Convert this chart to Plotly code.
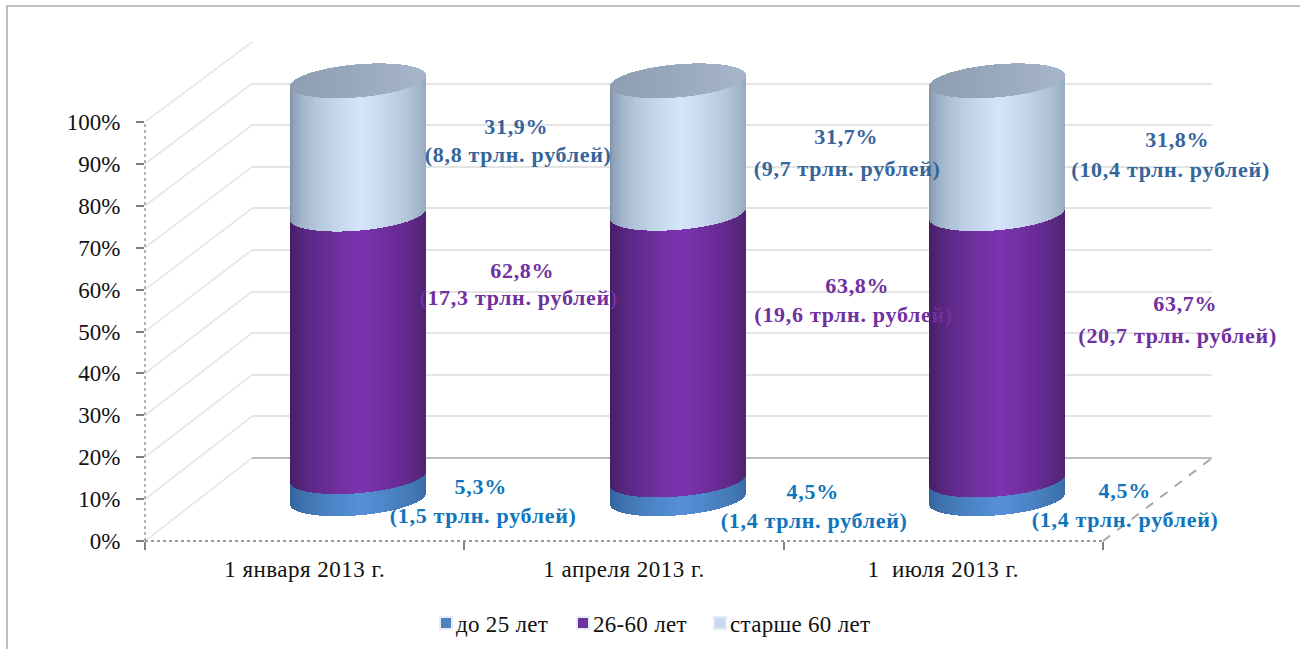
import numpy as np
import plotly.graph_objects as go

W, H = 1307, 649

categories = ["1 января 2013 г.", "1 апреля 2013 г.", "1  июля 2013 г."]
age_under_25 = [5.3, 4.5, 4.5]
age_26_60 = [62.8, 63.8, 63.7]
age_over_60 = [31.9, 31.7, 31.8]
trln_under_25 = ["1,5", "1,4", "1,4"]
trln_26_60 = ["17,3", "19,6", "20,7"]
trln_over_60 = ["8,8", "9,7", "10,4"]
series_names = ["до 25 лет", "26-60 лет", "старше 60 лет"]
pct_ticks = [0, 10, 20, 30, 40, 50, 60, 70, 80, 90, 100]
pct_labels = ["0%", "10%", "20%", "30%", "40%", "50%", "60%", "70%", "80%", "90%", "100%"]

FONT = "Liberation Serif"
TXT = "#111111"


def px(x):
    return x / W


def py(y):
    return 1 - y / H


def mix(a, b, t):
    a = [int(a[i:i + 2], 16) for i in (1, 3, 5)]
    b = [int(b[i:i + 2], 16) for i in (1, 3, 5)]
    return "rgb(%d,%d,%d)" % tuple(round(p + (q - p) * t) for p, q in zip(a, b))


# cylinder geometry, in units of the bar axes
PX_PER_CAT = 958 / 3
PX_PER_PCT = 4.18
half_w = 67.5 / PX_PER_CAT
semi_minor = 16.5 / PX_PER_PCT
tilt = 5.5 / PX_PER_PCT
STRIPS = 135
u = (np.arange(STRIPS) + 0.5) / STRIPS * 2 - 1
arc = np.sqrt(1 - u ** 2)
strip_w = 1.4 / PX_PER_CAT


def shade(edge, centre, power=0.55):
    lit = np.clip(1 - np.abs(u - 0.05) / 1.05, 0, 1) ** power
    return [mix(edge, centre, t) for t in lit]


def strips(bases, values, colours, name):
    xs, bs, ys, cs = [], [], [], []
    for i, (b, v) in enumerate(zip(bases, values)):
        xs += list(i + u * half_w)
        lo = b + tilt * u - semi_minor * arc
        hi = b + v + tilt * u - semi_minor * arc
        bs += list(lo)
        ys += list(hi - lo)
        cs += colours
    return go.Bar(x=xs, y=ys, base=bs, width=strip_w, marker=dict(color=cs, line_width=0),
                  xaxis="x3", yaxis="y3", name=name, showlegend=False, hoverinfo="skip")


fig = go.Figure()

# invisible traces keep the axes alive
fig.add_trace(go.Bar(x=categories, y=[None] * 3, xaxis="x", yaxis="y", showlegend=False, hoverinfo="skip"))
fig.add_trace(go.Scatter(x=[0, 1], y=[0, 100], xaxis="x2", yaxis="y2", mode="none", showlegend=False, hoverinfo="skip"))

base1 = [0, 0, 0]
base2 = age_under_25
base3 = [a + b for a, b in zip(age_under_25, age_26_60)]
fig.add_trace(strips(base1, age_under_25, shade("#2e5f95", "#5590d6"), series_names[0]))
fig.add_trace(strips(base2, age_26_60, shade("#3f1d5c", "#7c33b0"), series_names[1]))
fig.add_trace(strips(base3, age_over_60, shade("#6e8298", "#d4e5fb", 0.38), series_names[2]))

# top cap
tops = [a + b for a, b in zip(base3, age_over_60)]
cap_cols = [mix("#8d9db2", "#a6b5c7", t) for t in (u + 1) / 2]
xs, bs, ys, cs = [], [], [], []
for i, t in enumerate(tops):
    xs += list(i + u * half_w)
    bs += list(t + tilt * u - semi_minor * arc)
    ys += list(2 * semi_minor * arc)
    cs += cap_cols
fig.add_trace(go.Bar(x=xs, y=ys, base=bs, width=strip_w, marker=dict(color=cs, line_width=0),
                     xaxis="x3", yaxis="y3", showlegend=False, hoverinfo="skip"))

# legend entries
for name, col in zip(series_names, ["#4f81bd", "#7030a0", "#c6d9f1"]):
    fig.add_trace(go.Bar(x=[None], y=[None], xaxis="x3", yaxis="y3", name=name, marker_color=col))

# walls: front axes at (145..1103, 541..122); back wall at (252..1212, 458..42)
FX0, FX1, FY0, FY1 = 145, 1103, 541, 122
BX0, BX1, BY0, BY1 = 252, 1212, 458, 42
shapes = []
for p in pct_ticks:
    fy = FY0 + (FY1 - FY0) * p / 100
    by = BY0 + (BY1 - BY0) * p / 100
    shapes.append(dict(type="line", xref="paper", yref="paper", x0=px(FX0), y0=py(fy),
                       x1=px(BX0), y1=py(by), layer="below",
                       line=dict(color="#e4e4e4", width=1.5)))
# front y axis, floor edges
shapes += [
    dict(type="line", xref="paper", yref="paper", x0=px(FX0), y0=py(FY0), x1=px(FX0), y1=py(FY1),
         layer="below", line=dict(color="#9a9a9a", width=1.5, dash="dot")),
    dict(type="line", xref="paper", yref="paper", x0=px(FX0), y0=py(FY0), x1=px(FX1), y1=py(FY0),
         layer="below", line=dict(color="#9a9a9a", width=2, dash="dot")),
    dict(type="line", xref="paper", yref="paper", x0=px(FX1), y0=py(FY0), x1=px(BX1), y1=py(BY0),
         layer="below", line=dict(color="#a8a8a8", width=2, dash="dash")),
    # frame
    dict(type="line", xref="paper", yref="paper", x0=px(6), y0=py(6), x1=px(1300), y1=py(6),
         layer="below", line=dict(color="#bfbfbf", width=2)),
    dict(type="line", xref="paper", yref="paper", x0=px(7), y0=py(5), x1=px(7), y1=py(649),
         layer="below", line=dict(color="#bfbfbf", width=2)),
]

# value labels
LABEL_BLUE, LABEL_PURPLE, LABEL_DARK = "#0f75bd", "#7030a0", "#35659b"
label_sets = [
    (age_over_60, trln_over_60, LABEL_DARK,
     [(516, 126, 518, 155), (846, 137, 847, 168), (1177, 140, 1170, 170)]),
    (age_26_60, trln_26_60, LABEL_PURPLE,
     [(522, 270, 518, 298), (858, 285, 853, 314), (1185, 304, 1177, 335)]),
    (age_under_25, trln_under_25, LABEL_BLUE,
     [(481, 486, 483, 515), (813, 491, 814, 520), (1125, 490, 1125, 519)]),
]
annotations = []
for vals, amounts, col, spots in label_sets:
    for v, a, (x1, y1, x2, y2) in zip(vals, amounts, spots):
        for txt, x, y in ((f"{v:.1f}%".replace(".", ","), x1, y1), (f"({a} трлн. рублей)", x2, y2)):
            annotations.append(dict(text=f"<b>{txt}</b>", x=px(x), y=py(y), xref="paper", yref="paper",
                                    showarrow=False, xanchor="center", yanchor="middle",
                                    font=dict(family=FONT, size=22, color=col)))

fig.update_layout(
    width=W, height=H, autosize=False,
    margin=dict(l=0, r=0, t=0, b=0, autoexpand=False),
    paper_bgcolor="white", plot_bgcolor="rgba(0,0,0,0)",
    barmode="overlay", bargap=0,
    font=dict(family=FONT, size=23, color=TXT),
    shapes=shapes, annotations=annotations,
    legend=dict(orientation="h", x=px(426), xanchor="left", y=py(623), yanchor="middle",
                font=dict(family=FONT, size=23, color=TXT), bgcolor="rgba(0,0,0,0)",
                entrywidth=92, entrywidthmode="pixels",
                itemsizing="constant", tracegroupgap=0, itemclick=False, itemdoubleclick=False),
    xaxis=dict(domain=[px(FX0), px(FX1)], type="category", categoryorder="array", categoryarray=categories,
               tickson="boundaries", ticks="outside", ticklen=8, tickwidth=2, tickcolor="#808080",
               showgrid=False, showline=False, zeroline=False, anchor="y", automargin=False,
               tickfont=dict(family=FONT, size=23, color=TXT), ticklabelstandoff=12),
    yaxis=dict(domain=[py(FY0), py(FY1)], range=[0, 100], tickmode="array", tickvals=pct_ticks,
               ticktext=pct_labels, ticks="outside", ticklen=8, tickwidth=2, tickcolor="#808080",
               showgrid=False, showline=False, zeroline=False, anchor="x", automargin=False,
               tickfont=dict(family=FONT, size=23, color=TXT), ticklabelstandoff=11),
    # back wall
    xaxis2=dict(domain=[px(BX0), px(BX1)], range=[0, 1], visible=False, anchor="y2"),
    yaxis2=dict(domain=[py(BY0), py(BY1)], range=[0, 100], tickvals=pct_ticks,
                showticklabels=False, ticks="", showgrid=True, gridcolor="#e4e4e4", gridwidth=1.5,
                zeroline=True, zerolinecolor="#bdbdbd", zerolinewidth=2, showline=False, anchor="x2"),
    # bar axes: half depth behind the front
    xaxis3=dict(domain=[px(FX0 + 53.5), px(FX1 + 53.5)], range=[-0.5, 2.5], visible=False, anchor="y3"),
    yaxis3=dict(domain=[py(540.8), py(39.2)], range=[-10, 110], visible=False, anchor="x3"),
)

css = """
.annotation-text{letter-spacing:.7px}
.xtick text{letter-spacing:.5px}
.legendtext{letter-spacing:.3px;transform:translateX(-10px)}
.legend .scrollbox{clip-path:none!important}
.legend{overflow:visible}
"""
post = ("document.body.style.margin='0';"
        "var s=document.createElement('style');s.textContent=%r;document.head.appendChild(s);" % css)
fig.write_html("out.html", post_script=post, config={"displayModeBar": False})
